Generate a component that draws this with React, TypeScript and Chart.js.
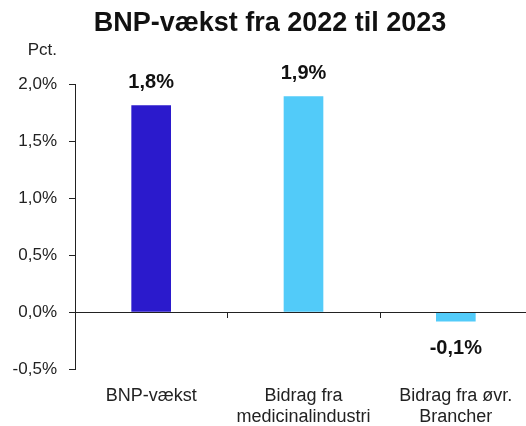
import React, { useEffect, useRef } from "react";
import { Chart, registerables } from "chart.js";

Chart.register(...registerables);

const categories: (string | string[])[] = [
  "BNP-vækst",
  ["Bidrag fra", "medicinalindustri"],
  ["Bidrag fra øvr.", "Brancher"],
];
const values: number[] = [1.81, 1.89, -0.08];
const barColors: string[] = ["#2B1ACC", "#52CBF9", "#52CBF9"];
const yTicks: number[] = [-0.5, 0, 0.5, 1.0, 1.5, 2.0];
const titleText = "BNP-vækst fra 2022 til 2023";
const unitText = "Pct.";

const FONT = "'Liberation Sans', Arial, sans-serif";
const fmt = (v: number) => v.toFixed(1).replace(".", ",") + "%";

const overlay = {
  id: "overlay",
  afterDatasetsDraw(chart: any) {
    const { ctx, chartArea, scales } = chart;
    const x = scales.x;
    const y = scales.y;
    const y0 = y.getPixelForValue(0);
    ctx.save();
    // zero line
    ctx.strokeStyle = "#222";
    ctx.lineWidth = 1;
    ctx.beginPath();
    ctx.moveTo(chartArea.left, Math.round(y0) + 0.5);
    ctx.lineTo(chartArea.right, Math.round(y0) + 0.5);
    ctx.stroke();
    // category boundary ticks
    for (let i = 1; i < categories.length; i++) {
      const bx = (x.getPixelForValue(i - 1) + x.getPixelForValue(i)) / 2;
      ctx.beginPath();
      ctx.moveTo(Math.round(bx) + 0.5, Math.round(y0));
      ctx.lineTo(Math.round(bx) + 0.5, Math.round(y0) + 6);
      ctx.stroke();
    }
    // data labels
    ctx.fillStyle = "#111";
    ctx.font = `bold 20px ${FONT}`;
    ctx.textAlign = "center";
    ctx.textBaseline = "middle";
    const meta = chart.getDatasetMeta(0);
    meta.data.forEach((bar: any, i: number) => {
      const v = values[i];
      const yy = v >= 0 ? bar.y - 23 : bar.y + 27;
      ctx.fillText(fmt(v), bar.x, yy);
    });
    // title
    ctx.font = `bold 27px ${FONT}`;
    ctx.fillStyle = "#111";
    ctx.fillText(titleText, 270, 24);
    // unit
    ctx.font = `17px ${FONT}`;
    ctx.textAlign = "right";
    ctx.textBaseline = "alphabetic";
    ctx.fillStyle = "#222";
    ctx.fillText(unitText, 57, 55);
    ctx.restore();
  },
};

export default function App() {
  const ref = useRef<HTMLCanvasElement | null>(null);
  useEffect(() => {
    if (!ref.current) return;
    const chart = new Chart(ref.current, {
      type: "bar",
      data: {
        labels: categories as any,
        datasets: [
          {
            data: values,
            backgroundColor: barColors,
            barThickness: 39,
          },
        ],
      },
      options: {
        animation: false,
        responsive: false,
        maintainAspectRatio: false,
        layout: { padding: { top: 84, left: 0, right: 0, bottom: 0 } },
        plugins: {
          legend: { display: false },
          tooltip: { enabled: false },
          title: { display: false },
        },
        scales: {
          x: {
            grid: { display: false },
            border: { display: false },
            ticks: {
              color: "#222",
              font: { family: FONT, size: 18, lineHeight: 1.2 },
              padding: 8,
              maxRotation: 0,
              autoSkip: false,
            },
            afterFit(scale: any) {
              scale.height = 57;
            },
          },
          y: {
            min: -0.5,
            max: 2.0,
            afterBuildTicks(scale: any) {
              scale.ticks = yTicks.map((v) => ({ value: v }));
            },
            grid: {
              drawOnChartArea: false,
              drawTicks: true,
              tickLength: 6,
              color: "#222",
            },
            border: { display: true, color: "#222" },
            ticks: {
              color: "#222",
              font: { family: FONT, size: 17 },
              padding: 12,
              callback: (v: any) => fmt(Number(v)),
            },
            afterFit(scale: any) {
              scale.width = 75;
            },
          },
        },
      },
      plugins: [overlay],
    });
    return () => chart.destroy();
  }, []);
  return (
    <div
      style={{
        position: "fixed",
        left: 0,
        top: 0,
        width: 526,
        height: 426,
        overflow: "hidden",
        background: "#fff",
      }}
    >
      <canvas ref={ref} width={532} height={426} style={{ display: "block" }} />
    </div>
  );
}
